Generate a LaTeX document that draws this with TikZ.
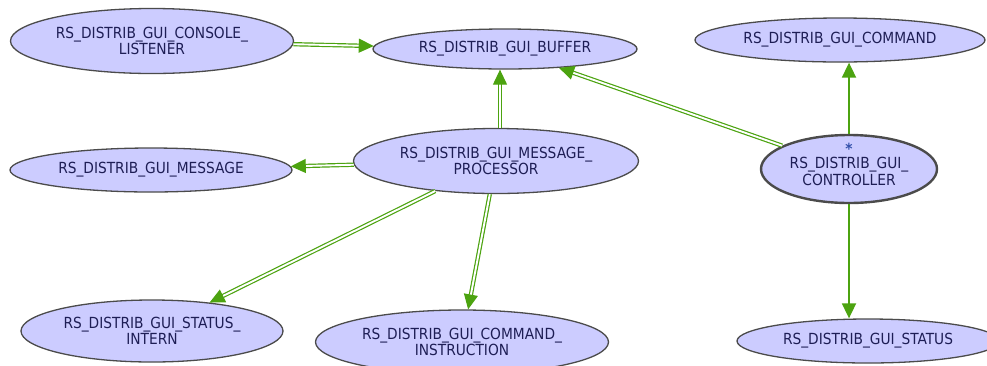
\documentclass[tikz,border=0pt]{standalone}
\usepackage{fontspec}
\setmainfont{DejaVu Sans Condensed}
\usetikzlibrary{shapes.geometric,arrows.meta}
\definecolor{nodefill}{RGB}{204,204,255}
\definecolor{nodeborder}{RGB}{75,75,75}
\definecolor{nodetext}{RGB}{30,30,85}
\definecolor{edgegreen}{RGB}{76,163,16}
\definecolor{starblue}{RGB}{50,80,170}
\tikzset{
  ell/.style={ellipse, draw=nodeborder, fill=nodefill, line width=1.3pt, inner sep=0pt,
    align=center, text=nodetext, font=\fontsize{15.3}{16.5}\selectfont},
  ctrlell/.style={ell, line width=2.4pt},
  lbl/.style={align=center, text=nodetext, inner sep=0pt, font=\fontsize{15.3}{16.5}\selectfont},
  dbl/.style={draw=edgegreen, line width=1.2pt, double=white, double distance=1.9pt,
    -{Triangle[length=15pt,width=14pt]}},
  sgl/.style={draw=edgegreen, line width=1.8pt, -{Triangle[length=15pt,width=14pt]}},
}
\begin{document}
\begin{tikzpicture}[x=1pt,y=-1pt]
\useasboundingbox (0,0) rectangle (987,365);
\node[ell, minimum width=283pt, minimum height=65pt] (listener) at (152,41) {RS\_DISTRIB\_GUI\_CONSOLE\_\\LISTENER};
\node[ell, minimum width=264pt, minimum height=40pt] (buffer) at (505,49) {RS\_DISTRIB\_GUI\_BUFFER};
\node[ell, minimum width=290pt, minimum height=44pt] (command) at (840,40) {RS\_DISTRIB\_GUI\_COMMAND};
\node[ell, minimum width=282pt, minimum height=44pt] (message) at (151,170) {RS\_DISTRIB\_GUI\_MESSAGE};
\node[ell, minimum width=285pt, minimum height=65pt] (processor) at (496,161) {RS\_DISTRIB\_GUI\_MESSAGE\_\\PROCESSOR};
\node[ctrlell, minimum width=176pt, minimum height=68pt] (controller) at (849,169) {};
\node[lbl] (controllerlabel) at (849,164.5) {{\color{starblue}\bfseries *}\\[-2.5pt]RS\_DISTRIB\_GUI\_\\CONTROLLER};
\node[ell, minimum width=262pt, minimum height=62pt] (intern) at (152,331) {RS\_DISTRIB\_GUI\_STATUS\_\\INTERN};
\node[ell, minimum width=293pt, minimum height=64pt] (instruction) at (462,342) {RS\_DISTRIB\_GUI\_COMMAND\_\\INSTRUCTION};
\node[ell, minimum width=262pt, minimum height=44pt] (status) at (868,341) {RS\_DISTRIB\_GUI\_STATUS};

\draw[dbl] (listener) -- (buffer);
\draw[dbl] (processor.north) ++(4,0) coordinate (pn) -- (pn |- buffer.south);
\draw[dbl] (controller) -- (buffer);
\draw[dbl] (processor) -- (message);
\draw[dbl] (processor) -- (intern);
\draw[dbl] (processor) -- (instruction);
\draw[sgl] (controller.north) -- (controller.north |- command.south);
\draw[sgl] (controller.south) -- (controller.south |- status.north);
\end{tikzpicture}
\end{document}
